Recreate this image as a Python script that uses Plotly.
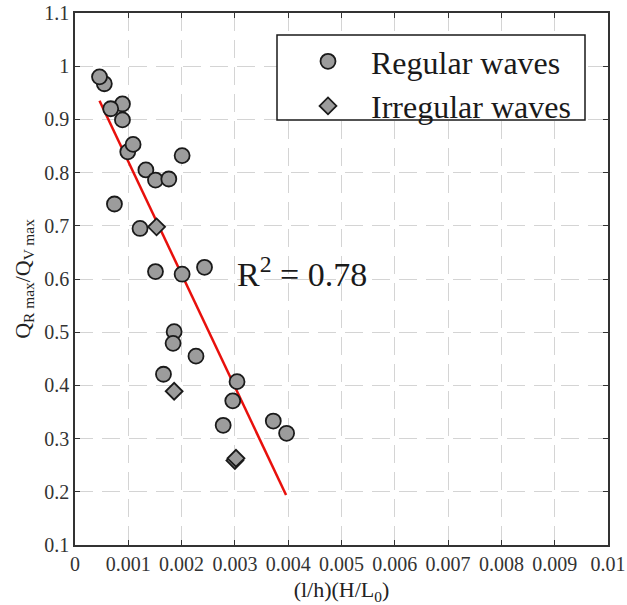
import plotly.graph_objects as go

# regular waves (circles)
reg_x = [0.00055, 0.00046, 0.00089, 0.00089, 0.00067, 0.00099, 0.00109, 0.00133,
         0.00151, 0.00176, 0.00201, 0.00074, 0.00122, 0.00151, 0.00201, 0.00243,
         0.00186, 0.00184, 0.00227, 0.00166, 0.00304, 0.00296, 0.00278, 0.00372,
         0.00397]
reg_y = [0.967, 0.980, 0.929, 0.899, 0.920, 0.839, 0.853, 0.805,
         0.786, 0.788, 0.832, 0.741, 0.695, 0.614, 0.609, 0.622,
         0.501, 0.479, 0.455, 0.421, 0.407, 0.371, 0.325, 0.333,
         0.310]

# irregular waves (diamonds)
irr_x = [0.00153, 0.00186, 0.00300, 0.00302]
irr_y = [0.698, 0.389, 0.259, 0.263]

# linear fit
fit_x = [0.00046, 0.00396]
fit_y = [0.935, 0.194]
r2_text = "R<sup>2</sup> = 0.78"

x_ticks = [0, 0.001, 0.002, 0.003, 0.004, 0.005, 0.006, 0.007, 0.008, 0.009, 0.01]
x_labels = ["0", "0.001", "0.002", "0.003", "0.004", "0.005", "0.006", "0.007",
            "0.008", "0.009", "0.01"]
y_ticks = [0.1, 0.2, 0.3, 0.4, 0.5, 0.6, 0.7, 0.8, 0.9, 1.0, 1.1]
y_labels = ["0.1", "0.2", "0.3", "0.4", "0.5", "0.6", "0.7", "0.8", "0.9", "1", "1.1"]

SERIF = "Liberation Serif, Times New Roman, serif"
fig = go.Figure()

fig.add_trace(
    go.Scatter(
        x=fit_x, y=fit_y, mode="lines",
        line=dict(color="#e8100c", width=2.5),
        showlegend=False
    )
)

fig.add_trace(
    go.Scatter(
        x=reg_x, y=reg_y, mode="markers", name="Regular waves",
        marker=dict(symbol="circle", size=15, color="#9c9c9c",
                    line=dict(color="#1a1a1a", width=1.8))
    )
)

fig.add_trace(
    go.Scatter(
        x=irr_x, y=irr_y, mode="markers", name="Irregular waves",
        marker=dict(symbol="diamond", size=13, color="#9c9c9c",
                    line=dict(color="#1a1a1a", width=1.8))
    )
)

fig.add_annotation(
    x=0.0030, y=0.613, xref="x", yref="y", text=r2_text, showarrow=False,
    xanchor="left", yanchor="middle",
    font=dict(family=SERIF, size=34, color="#1a1a1a")
)

# legend frame
fig.add_shape(
    type="rect", xref="paper", yref="paper", layer="above",
    x0=(277 - 75) / 533, x1=(585 - 75) / 533,
    y0=(545 - 120) / 532, y1=(545 - 35) / 532,
    fillcolor="white", line=dict(color="#1a1a1a", width=1.5)
)

axis_common = dict(
    showline=True, linecolor="#333333", linewidth=1.5, mirror="ticks",
    ticks="inside", ticklen=5, tickwidth=1.2, tickcolor="#333333",
    showgrid=True, gridcolor="#d4d4d4", gridwidth=1, griddash="18px,9px",
    zeroline=False, automargin=False,
    tickfont=dict(family=SERIF, size=20, color="#333333")
)

fig.update_xaxes(
    range=[0, 0.01], tickvals=x_ticks, ticktext=x_labels,
    title=dict(text="(l/h)(H/L<sub>0</sub>)", standoff=8,
               font=dict(family=SERIF, size=22, color="#222222")),
    **axis_common
)
fig.update_yaxes(
    range=[0.1, 1.1], tickvals=y_ticks, ticktext=y_labels,
    title=dict(text="Q<sub>R max</sub>/Q<sub>V max</sub>", standoff=8,
               font=dict(family=SERIF, size=22, color="#222222")),
    **axis_common
)

fig.update_layout(
    width=627, height=605,
    margin=dict(l=75, r=19, t=13, b=60),
    plot_bgcolor="white", paper_bgcolor="white",
    legend=dict(
        x=(285 - 75) / 533, y=(545 - 34) / 532, xanchor="left", yanchor="top",
        bgcolor="rgba(0,0,0,0)", borderwidth=0,
        font=dict(family=SERIF, size=32, color="#1a1a1a"),
        itemwidth=76, tracegroupgap=0
    ),
    showlegend=True
)

fig.write_html("out.html", config={"displayModeBar": False},
               post_script="document.body.style.margin='0';")
